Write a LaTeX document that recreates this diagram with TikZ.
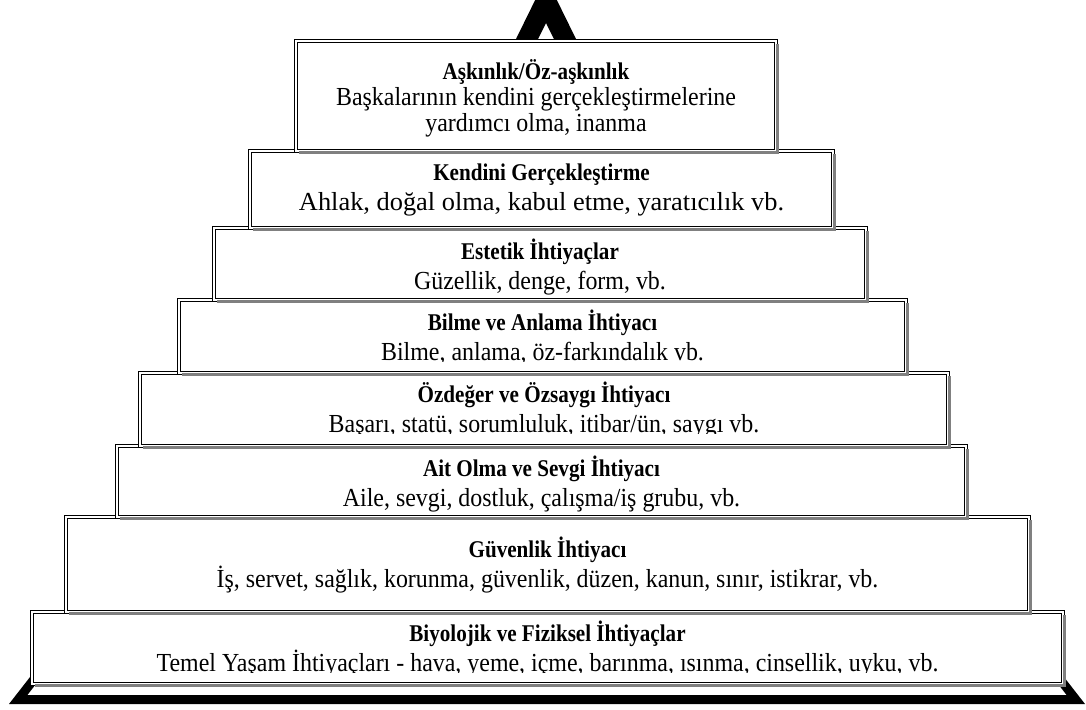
\documentclass[tikz,border=0pt]{standalone}
\usepackage{fontspec}
\usepackage{graphicx}
\setmainfont{Liberation Serif}
\newfontfamily\titlefont[FakeStretch=0.88]{Liberation Serif}
\newfontfamily\descfont[FakeStretch=0.92]{Liberation Serif}
\usetikzlibrary{calc}
\tikzset{
  boxframe/.style={rectangle, draw=black, line width=1pt, double=white, double distance=1.5pt,
    fill=white, inner sep=0pt, outer sep=0pt, anchor=north west},
  shadeline/.style={draw=black!50, line width=2.6pt},
  ttl/.style={font=\titlefont\fontsize{24}{25}\selectfont\bfseries, anchor=base, inner sep=0pt},
  dsc/.style={font=\descfont\fontsize{26}{25}\selectfont, anchor=base, inner sep=0pt},
  pyrfill/.style={fill=black}
}
% #1 name, #2 x1, #3 y1, #4 x2, #5 y2, #6 title baseline, #7 title, #8 text, #9 clip bottom
\newcommand\pyrlevel[9]{%
  \node[boxframe, minimum width={#4-#2}, minimum height={#5-#3}] (#1) at (#2,#3) {};
  \draw[shadeline] ($(#1.north east)+(1.4,3)$) -- ($(#1.south east)+(1.4,1.4)$) -- ($(#1.south west)+(3,1.4)$);
  \begin{scope}
    \clip (#2+2,#3+2) rectangle (#4-2,#9);
    \node[ttl] (#1-t) at ({(#2+#4)/2},#6) {#7};
    \node[dsc] (#1-d) at ({(#2+#4)/2},#6+30) {#8};
  \end{scope}}
\begin{document}
\begin{tikzpicture}[x=1pt,y=-1pt]
\useasboundingbox (0,0) rectangle (1086,709);
\clip (0,0) rectangle (1086,709);
\fill[white] (0,0) rectangle (1086,709);
% apex of the pyramid
\fill[pyrfill] (486,100) -- (546,-22) -- (606,100) -- (584,100) -- (546,23) -- (508,100) -- cycle;
% base of the pyramid
\fill[pyrfill] (58.9,640) -- (9,704) -- (1085,704) -- (1035.1,640) -- (1023.7,640) -- (1066.6,695) -- (27.4,695) -- (70.3,640) -- cycle;
% levels, bottom to top
\pyrlevel{bio}{32}{612}{1063}{684}{641}{Biyolojik ve Fiziksel İhtiyaçlar}{Temel Yaşam İhtiyaçları - hava, yeme, içme, barınma, ısınma, cinsellik, uyku, vb.}{672.5}
\pyrlevel{guv}{66}{517}{1029}{612}{557}{Güvenlik İhtiyacı}{İş, servet, sağlık, korunma, güvenlik, düzen, kanun, sınır, istikrar, vb.}{606}
\pyrlevel{ait}{117}{446}{966}{517}{476}{Ait Olma ve Sevgi İhtiyacı}{Aile, sevgi, dostluk, çalışma/iş grubu, vb.}{512}
\pyrlevel{ozd}{140}{373}{948}{446}{402}{Özdeğer ve Özsaygı İhtiyacı}{Başarı, statü, sorumluluk, itibar/ün, saygı vb.}{433.5}
\pyrlevel{bil}{179}{300}{906}{373}{330}{Bilme ve Anlama İhtiyacı}{Bilme, anlama, öz-farkındalık vb.}{361}
\pyrlevel{est}{214}{228}{866}{300}{259}{Estetik İhtiyaçlar}{Güzellik, denge, form, vb.}{296}
\pyrlevel{ken}{250}{151}{833}{228}{180}{Kendini Gerçekleştirme}{\resizebox{485pt}{\height}{Ahlak, doğal olma, kabul etme, yaratıcılık vb.}}{224}
% top level (three lines)
\node[boxframe, minimum width=480, minimum height=110] (ask) at (296,41) {};
\draw[shadeline] ($(ask.north east)+(1.4,3)$) -- ($(ask.south east)+(1.4,1.4)$) -- ($(ask.south west)+(3,1.4)$);
\node[ttl] (ask-t) at (536,79) {Aşkınlık/Öz-aşkınlık};
\node[dsc] (ask-d1) at (536,105) {Başkalarının kendini gerçekleştirmelerine};
\node[dsc] (ask-d2) at (536,131) {yardımcı olma, inanma};
\end{tikzpicture}
\end{document}
